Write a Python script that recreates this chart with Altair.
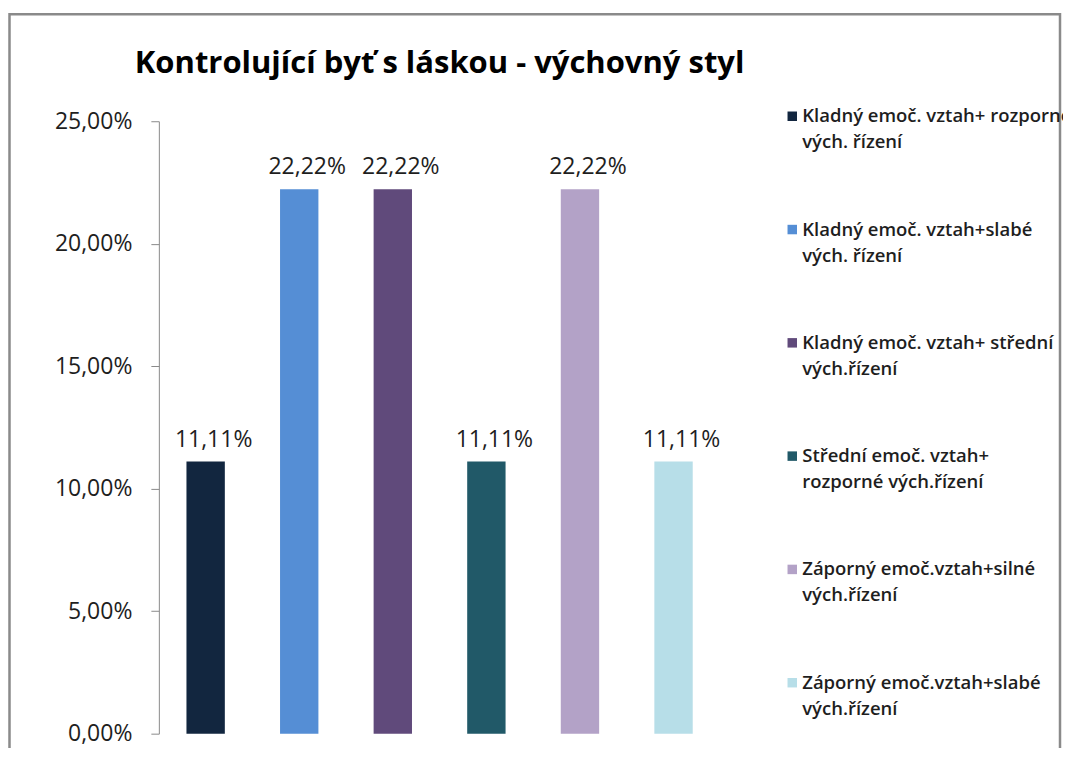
import altair as alt
import pandas as pd

title_text = "Kontrolující byť s láskou - výchovný styl"
categories = [
    "Kladný emoč. vztah+ rozporné\nvých. řízení",
    "Kladný emoč. vztah+slabé\nvých. řízení",
    "Kladný emoč. vztah+ střední\nvých.řízení",
    "Střední emoč. vztah+\nrozporné vých.řízení",
    "Záporný emoč.vztah+silné\nvých.řízení",
    "Záporný emoč.vztah+slabé\nvých.řízení",
]
values = [11.11, 22.22, 22.22, 11.11, 22.22, 11.11]
colors = ["#12263F", "#558ED5", "#604A7B", "#215968", "#B3A2C7", "#B7DEE8"]
y_ticks = [0, 5, 10, 15, 20, 25]

df = pd.DataFrame({"cat": categories, "value": values})

FONT = "Open Sans"
TXT = "#1e1e1e"
GRAY = "#8a8a8a"

color = alt.Color("cat:N", scale=alt.Scale(domain=categories, range=colors), legend=None)
x = alt.X("cat:N", sort=categories, axis=None,
          scale=alt.Scale(paddingInner=0.59, paddingOuter=0.295))
y = alt.Y("value:Q", scale=alt.Scale(domain=[0, 25], nice=False, zero=True),
          axis=alt.Axis(values=y_ticks, grid=False, title=None,
                        labelExpr="replace(format(datum.value, '.2f'), '.', ',') + '%'",
                        labelFont=FONT, labelFontSize=23, labelColor=TXT,
                        labelPadding=19, tickSize=8, tickColor=GRAY, domainColor=GRAY,
                        tickWidth=1, domainWidth=1))

base = alt.Chart(df)
bars = base.mark_bar().encode(x=x, y=y, color=color)
labels = base.transform_calculate(
    lbl="replace(format(datum.value, '.2f'), '.', ',') + '%'"
).mark_text(dy=-15, dx=8, baseline="alphabetic", font=FONT, fontSize=23, color=TXT).encode(
    x=x, y=y, text="lbl:N")
data_layer = alt.layer(bars, labels)

ly = alt.Y("cat:N", sort=categories, axis=None,
           scale=alt.Scale(type="point", range=[-5, 562], padding=0))
leg_sq = base.mark_square(size=90, opacity=1).encode(x=alt.value(634), y=ly, color=color)
leg_txt = base.mark_text(align="left", baseline="alphabetic", dy=6, lineBreak="\n",
                         lineHeight=26, font=FONT, fontSize=18.5, fontWeight=600,
                         color=TXT).encode(x=alt.value(644), y=ly, text="cat:N")
legend_layer = alt.layer(leg_sq, leg_txt)

frame = alt.Chart(pd.DataFrame({"f": [0]})).mark_rect(
    filled=False, stroke=GRAY, strokeWidth=2.5
).encode(x=alt.value(-149.5), x2=alt.value(902), y=alt.value(-107), y2=alt.value(700))

chart = alt.layer(frame, data_layer, legend_layer).resolve_scale(y="independent").properties(
    width=562, height=613,
    padding={"left": 151, "top": 113, "right": 343, "bottom": 14},
    autosize=alt.AutoSizeParams(type="none"),
    background="white",
    title=alt.TitleParams(title_text, font=FONT, fontSize=31, fontWeight="bold", color="#000",
                          anchor="middle", frame="group", baseline="alphabetic", offset=-91),
).configure_view(stroke=None)

chart.save("out.html", embed_options={"renderer": "svg", "actions": False})
